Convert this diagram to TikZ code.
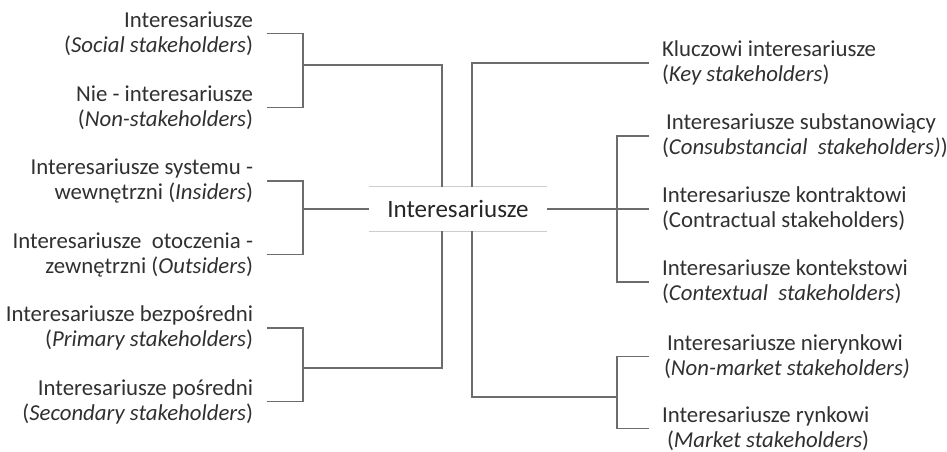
\documentclass[tikz,border=0pt]{standalone}
\usepackage{fontspec}
\setmainfont{Carlito}
\usetikzlibrary{positioning, calc}
\definecolor{linegray}{RGB}{108,108,108}
\definecolor{rulegray}{RGB}{205,205,205}
\definecolor{txtgray}{RGB}{48,48,48}

\begin{document}
\begin{tikzpicture}[x=1pt,y=-1pt,
		lbl/.style={font=\fontsize{22.8}{25}\selectfont, text=txtgray, inner sep=0pt},
		lft/.style={lbl, align=right, anchor=east, outer xsep=14pt},
		rgt/.style={lbl, align=left, anchor=west, outer xsep=13pt},
		hub/.style={font=\fontsize{25}{28}\selectfont, text=black!85, fill=white,
			minimum width=178pt, minimum height=44pt, inner sep=0pt},
		conn/.style={draw=linegray, line width=1.5pt}]
	\useasboundingbox (0,0) rectangle (947,452);
	% centre
	\node[hub] (hub) at (458,209) {Interesariusze};
	\draw[rulegray, line width=1pt] (hub.north west) -- (hub.north east);
	\draw[rulegray, line width=1pt] (hub.south west) -- (hub.south east);
	% left column
	\node[lft] (social) at (267,33.5) {Interesariusze\\(\textit{Social stakeholders})};
	\node[lft] (nonst) at (267,107.5) {Nie - interesariusze\\(\textit{Non-stakeholders})};
	\node[lft] (insider) at (267,181) {Interesariusze systemu -\\wewnętrzni (\textit{Insiders})};
	\node[lft] (outsider) at (267,254.5) {Interesariusze\ \ otoczenia -\\zewnętrzni (\textit{Outsiders})};
	\node[lft] (primary) at (267,328) {Interesariusze bezpośredni\\(\textit{Primary stakeholders})};
	\node[lft] (secondary) at (267,401.5) {Interesariusze pośredni\\(\textit{Secondary stakeholders})};
	% right column
	\node[rgt] (key) at (649,63) {Kluczowi interesariusze\\(\textit{Key stakeholders})};
	\node[rgt] (subst) at (649,136) {\hspace{4pt}Interesariusze substanowiący\\(\textit{Consubstancial\ \ stakeholders)})};
	\node[rgt] (contract) at (649,209) {Interesariusze kontraktowi\\(Contractual stakeholders)};
	\node[rgt] (context) at (649,282) {Interesariusze kontekstowi\\(\textit{Contextual\ \ stakeholders})};
	\node[rgt] (nonmkt) at (649,356.5) {\hspace{5pt}Interesariusze nierynkowi\\\hspace{2pt}(\textit{Non-market stakeholders)}};
	\node[rgt] (market) at (649,428.5) {Interesariusze rynkowi\\\hspace{5pt}(\textit{Market stakeholders})};
	% joints
	\coordinate (jl1) at (303,65);
	\coordinate (jl2) at (303,209);
	\coordinate (jl3) at (303,368);
	\coordinate (jr1) at (617,209);
	\coordinate (jr2) at (617,397);
	\coordinate (ltrunk) at (442,209);
	\coordinate (rtrunk) at (472,209);
	% brackets
	\draw[conn] (social.east) -| (jl1) |- (nonst.east);
	\draw[conn] (insider.east) -| (jl2) |- (outsider.east);
	\draw[conn] (primary.east) -| (jl3) |- (secondary.east);
	\draw[conn] (subst.west) -| (jr1) |- (context.west);
	\draw[conn] (nonmkt.west) -| (jr2) |- (market.west);
	% trunks
	\draw[conn] (jl1) -| (ltrunk |- hub.north);
	\draw[conn] (jl3) -| (ltrunk |- hub.south);
	\draw[conn] (key.west) -| (rtrunk |- hub.north);
	\draw[conn] (jr2) -| (rtrunk |- hub.south);
	\draw[conn] (jl2) -- (hub.west);
	\draw[conn] (hub.east) -- (contract.west);
\end{tikzpicture}
\end{document}
